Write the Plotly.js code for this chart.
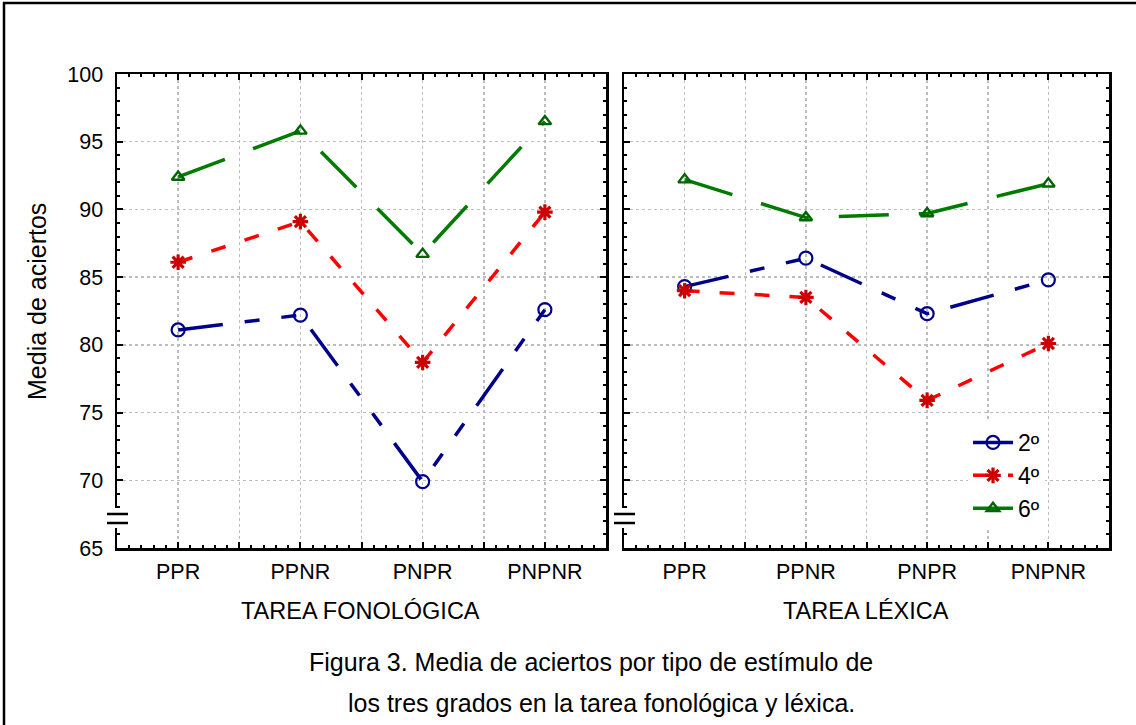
<!DOCTYPE html>
<html>
<head>
<meta charset="utf-8">
<script src="https://cdn.plot.ly/plotly-3.0.1.min.js"></script>
<style>
html,body{margin:0;padding:0;background:#fff;}
#chart{width:1136px;height:725px;}
</style>
</head>
<body>
<div id="chart"></div>
<script>
// ---- data ----
var categories = ['PPR', 'PPNR', 'PNPR', 'PNPNR'];
var seriesNames = ['2º', '4º', '6º'];
// Tarea fonológica
var fono2 = [81.1, 82.2, 69.9, 82.6];
var fono4 = [86.1, 89.1, 78.7, 89.8];
var fono6 = [92.4, 95.8, 86.7, 96.5];
// Tarea léxica
var lex2 = [84.3, 86.4, 82.3, 84.8];
var lex4 = [84.0, 83.5, 75.9, 80.1];
var lex6 = [92.2, 89.4, 89.7, 91.9];
var yTicks = [65, 70, 75, 80, 85, 90, 95, 100];
var panelTitles = ['TAREA FONOLÓGICA', 'TAREA LÉXICA'];
var yTitle = 'Media de aciertos';
var caption1 = 'Figura 3. Media de aciertos por tipo de estímulo de';
var caption2 = 'los tres grados en la tarea fonológica y léxica.';

// ---- helpers ----
var W = 1136, H = 725;
function px(x) { return x / W; }
function py(y) { return 1 - y / H; }
var xIdx = categories.map(function (c, i) { return i; });

var styles = [
  {line: {color: '#00008B', width: 3.5, dash: '45px,22px,15px,22px,15px,22px'},
   marker: {symbol: 'circle-open', size: 13, color: '#00008B', line: {width: 2.2, color: '#00008B'}}},
  {line: {color: '#FF0000', width: 3.5, dash: '15px,20px'},
   marker: {symbol: 'asterisk-open', size: 13, color: '#CC0000', line: {width: 3.2, color: '#CC0000'}}},
  {line: {color: '#007A00', width: 3.5, dash: '50px,30px'},
   marker: {symbol: 'triangle-up-open', size: 11, color: '#006400', line: {width: 2.4, color: '#006400'}}}
];

var fonoSeries = [fono2, fono4, fono6];
var lexSeries = [lex2, lex4, lex6];
var traces = [];
fonoSeries.forEach(function (vals, i) {
  traces.push({
    x: xIdx, y: vals, xaxis: 'x', yaxis: 'y', type: 'scatter', mode: 'lines+markers',
    name: seriesNames[i], legendgroup: 'g' + i, showlegend: false,
    line: styles[i].line, marker: styles[i].marker, hoverinfo: 'y'
  });
});
lexSeries.forEach(function (vals, i) {
  traces.push({
    x: xIdx, y: vals, xaxis: 'x2', yaxis: 'y2', type: 'scatter', mode: 'lines+markers',
    name: seriesNames[i], legendgroup: 'g' + i, showlegend: true,
    line: styles[i].line, marker: styles[i].marker, hoverinfo: 'y'
  });
});

var gridVals = [];
var gridText = [];
for (var k = 0; k < categories.length; k++) {
  gridVals.push(k); gridText.push(categories[k]);
  if (k < categories.length - 1) { gridVals.push(k + 0.5); gridText.push(''); }
}

var fontFam = 'Liberation Sans, Arial, sans-serif';

function xAxis(domain, anchor) {
  return {
    domain: domain, anchor: anchor, range: [-0.5, categories.length - 0.5],
    tickmode: 'array', tickvals: gridVals, ticktext: gridText,
    showgrid: true, gridcolor: '#bdbdbd', gridwidth: 1.5, griddash: '3px,3px',
    zeroline: false, showline: true, linecolor: '#000', linewidth: 2.5, mirror: 'allticks',
    ticks: 'inside', ticklen: 6, tickwidth: 2, tickcolor: '#000',
    minor: {dtick: 0.1, tick0: -0.5, ticks: 'inside', ticklen: 3, tickwidth: 2, tickcolor: '#000', showgrid: false},
    tickfont: {family: fontFam, size: 21.5, color: '#000'}, ticklabelstandoff: 3,
    fixedrange: true
  };
}
function yAxis(domain, anchor, showLabels) {
  return {
    domain: domain, anchor: anchor, range: [65, 100],
    tickmode: 'array', tickvals: yTicks, ticktext: yTicks.map(String),
    showticklabels: showLabels,
    showgrid: true, gridcolor: '#bdbdbd', gridwidth: 1.5, griddash: '3px,3px',
    zeroline: false, showline: true, linecolor: '#000', linewidth: 2.5, mirror: 'allticks',
    ticks: 'inside', ticklen: 6, tickwidth: 2, tickcolor: '#000',
    minor: {dtick: 1, tick0: 65, ticks: 'inside', ticklen: 3, tickwidth: 2, tickcolor: '#000', showgrid: false},
    tickfont: {family: fontFam, size: 21.5, color: '#000'}, ticklabelstandoff: 7,
    fixedrange: true
  };
}

var yDom = [py(548), py(74)];
var layout = {
  width: W, height: H,
  margin: {l: 0, r: 0, t: 0, b: 0, pad: 0},
  paper_bgcolor: '#fff', plot_bgcolor: '#fff',
  font: {family: fontFam, color: '#000'},
  xaxis: xAxis([px(117), px(606)], 'y'),
  yaxis: yAxis(yDom, 'x', true),
  xaxis2: xAxis([px(624), px(1109)], 'y2'),
  yaxis2: yAxis(yDom, 'x2', false),
  showlegend: true,
  legend: {
    x: px(968), y: py(421), xanchor: 'left', yanchor: 'top',
    bgcolor: '#fff', borderwidth: 0,
    font: {family: fontFam, size: 23, color: '#000'},
    tracegroupgap: 0, itemwidth: 40
  },
  annotations: [
    {text: panelTitles[0], xref: 'paper', yref: 'paper', x: px(360), y: py(611), showarrow: false,
     xanchor: 'center', yanchor: 'middle', font: {family: fontFam, size: 23.5, color: '#000'}},
    {text: panelTitles[1], xref: 'paper', yref: 'paper', x: px(866), y: py(611), showarrow: false,
     xanchor: 'center', yanchor: 'middle', font: {family: fontFam, size: 23.5, color: '#000'}},
    {text: yTitle, xref: 'paper', yref: 'paper', x: px(37), y: py(302), showarrow: false, textangle: -90,
     xanchor: 'center', yanchor: 'middle', font: {family: fontFam, size: 25, color: '#000'}},
    {text: caption1, xref: 'paper', yref: 'paper', x: px(591), y: py(662), showarrow: false,
     xanchor: 'center', yanchor: 'middle', font: {family: fontFam, size: 25, color: '#000'}},
    {text: caption2, xref: 'paper', yref: 'paper', x: px(601), y: py(703), showarrow: false,
     xanchor: 'center', yanchor: 'middle', font: {family: fontFam, size: 25, color: '#000'}}
  ],
  shapes: [
    // outer frame
    {type: 'rect', xref: 'paper', yref: 'paper', x0: px(4), x1: px(1145), y0: py(3), y1: py(735),
     line: {color: '#000', width: 2.5}, fillcolor: 'rgba(0,0,0,0)', layer: 'above'},
    // axis breaks, left panel
    {type: 'rect', xref: 'paper', yref: 'paper', x0: px(111), x1: px(123), y0: py(508), y1: py(528),
     line: {width: 0}, fillcolor: '#fff', layer: 'above'},
    {type: 'line', xref: 'paper', yref: 'paper', x0: px(107), x1: px(128), y0: py(514), y1: py(514),
     line: {color: '#000', width: 2.5}, layer: 'above'},
    {type: 'line', xref: 'paper', yref: 'paper', x0: px(107), x1: px(128), y0: py(523), y1: py(523),
     line: {color: '#000', width: 2.5}, layer: 'above'},
    // axis breaks, right panel
    {type: 'rect', xref: 'paper', yref: 'paper', x0: px(618), x1: px(630), y0: py(508), y1: py(528),
     line: {width: 0}, fillcolor: '#fff', layer: 'above'},
    {type: 'line', xref: 'paper', yref: 'paper', x0: px(614), x1: px(635), y0: py(514), y1: py(514),
     line: {color: '#000', width: 2.5}, layer: 'above'},
    {type: 'line', xref: 'paper', yref: 'paper', x0: px(614), x1: px(635), y0: py(523), y1: py(523),
     line: {color: '#000', width: 2.5}, layer: 'above'}
  ]
};

Plotly.newPlot('chart', traces, layout, {displayModeBar: false, staticPlot: true});
</script>
</body>
</html>
